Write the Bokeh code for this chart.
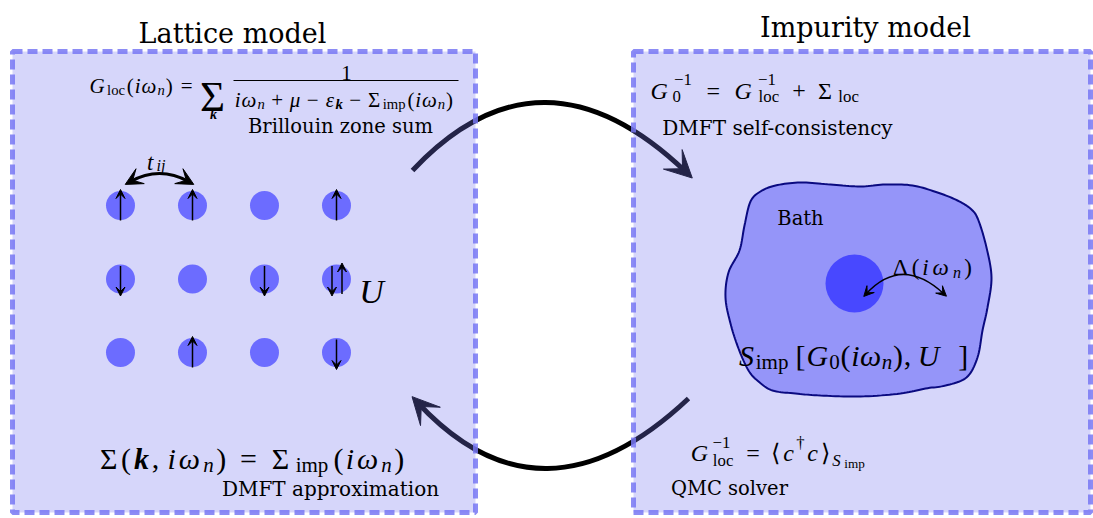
import numpy as np
from bokeh.plotting import figure
from bokeh.models import Range1d, ColumnDataSource, Arrow, VeeHead
from bokeh.core.properties import value
from bokeh.embed import file_html
from bokeh.resources import INLINE

# ---------------- content ----------------
TITLES = ["Lattice model", "Impurity model"]
CAPTIONS = ["Brillouin zone sum", "DMFT approximation", "DMFT self-consistency", "QMC solver", "Bath"]
# spin state on each lattice site (rows top->bottom, cols left->right)
SPIN_STATES = [["up", "up", "", "up"],
               ["down", "", "down", "updown"],
               ["", "up", "", "down"]]
N_ROWS, N_COLS = 3, 4

MATH = "Liberation Serif"
TXT = "DejaVu Serif"
DARK = "#000000"

W, H = 1093, 518
p = figure(width=W, height=H, x_range=Range1d(0, W), y_range=Range1d(H, 0),
           output_backend="svg", toolbar_location=None, x_axis_type=None, y_axis_type=None,
           min_border=0, background_fill_color="white", border_fill_color="white")
p.grid.visible = False
p.outline_line_color = None


def unit(v):
    v = np.asarray(v, float)
    return v / np.linalg.norm(v)


def head(tip, direction, size, color, level="annotation"):
    d = unit(direction)
    s = np.asarray(tip, float) - d * 2.0
    p.add_layout(Arrow(end=VeeHead(size=size, fill_color=color, line_color=color, line_width=1),
                       x_start=s[0], y_start=s[1], x_end=tip[0], y_end=tip[1],
                       line_alpha=0, line_width=0.1, level=level))


def curve_arrow(p0, apex, p1, lw, size, color, both=False, back=8.0, level="glyph"):
    p0 = np.asarray(p0, float); p1 = np.asarray(p1, float); apex = np.asarray(apex, float)
    c = 2 * apex - (p0 + p1) / 2
    p.quadratic(x0=[p0[0]], y0=[p0[1]], x1=[p1[0]], y1=[p1[1]], cx=[c[0]], cy=[c[1]],
                line_width=lw, line_color=color, level=level)
    hl = "underlay" if level == "underlay" else "annotation"
    d1 = unit(p1 - c)
    head(p1 + d1 * back, d1, size, color, level=hl)
    if both:
        d0 = unit(p0 - c)
        head(p0 + d0 * back, d0, size, color, level=hl)


# ---------------- big loop arrows (under the boxes) ----------------
curve_arrow((412, 170), (545, 102), (686, 172), 5, 27, DARK, level="underlay")
curve_arrow((688, 398), (547, 468), (417, 402), 5, 27, DARK, level="underlay")

# ---------------- boxes ----------------
p.quad(left=[12, 633], right=[475, 1090], top=[51, 51], bottom=[512, 512],
       fill_color="#7676ee", fill_alpha=0.3, line_color="#7878f3", line_alpha=0.85,
       line_width=5, line_dash="10 5")

# ---------------- bath blob ----------------
blob_pts = [(750, 201), (760, 191), (775, 185), (800, 182), (830, 184), (860, 186), (885, 184),
            (912, 185), (937, 192), (957, 200), (971, 209), (978, 220), (986, 247), (991, 277),
            (987, 307), (982, 330), (977, 357), (966, 377), (945, 385), (925, 388), (900, 393),
            (860, 396), (820, 395), (795, 393), (772, 390), (758, 381), (748, 370), (738, 348),
            (730, 323), (725, 297), (728, 272), (739, 250), (744, 225)]


def smooth_closed(pts, n=10):
    P = np.array(pts, float)
    N = len(P)
    out = []
    for i in range(N):
        p0, p1, p2, p3 = P[(i - 1) % N], P[i], P[(i + 1) % N], P[(i + 2) % N]
        for t in np.linspace(0, 1, n, endpoint=False):
            t2, t3 = t * t, t * t * t
            out.append(0.5 * ((2 * p1) + (-p0 + p2) * t + (2 * p0 - 5 * p1 + 4 * p2 - p3) * t2
                              + (-p0 + 3 * p1 - 3 * p2 + p3) * t3))
    return np.array(out)


bp = smooth_closed(blob_pts)
p.patch(bp[:, 0], bp[:, 1], fill_color="#9595f9", line_color="#0a0a80", line_width=2)
p.circle(x=[854], y=[283], radius=29, fill_color="#4848ff", line_color=None)

# ---------------- lattice ----------------
X0, DX, Y0, DY = 120, 72, 205, 73.5
sx, sy = [], []
for r in range(N_ROWS):
    for c in range(N_COLS):
        sx.append(X0 + c * DX)
        sy.append(Y0 + r * DY)
p.circle(x=sx, y=sy, radius=14.5, fill_color="#6c6cff", line_color=None)


def spin(x, yc, up):
    if up:
        ys, ye = yc + 15, yc - 16
    else:
        ys, ye = yc - 13, yc + 17
    p.segment(x0=[x], y0=[ys], x1=[x], y1=[ye + (4 if up else -4)], line_width=1.5, line_color="black")
    head((x, ye), (0, ye - ys), 9, "black")


for r in range(N_ROWS):
    for c in range(N_COLS):
        st = SPIN_STATES[r][c]
        x, y = X0 + c * DX, Y0 + r * DY
        if st == "up":
            spin(x, y, True)
        elif st == "down":
            spin(x, y, False)
        elif st == "updown":
            spin(x - 4.5, y, False)
            spin(x + 5.5, y, True)

# hopping arrow t_ij and hybridisation arrow Delta
curve_arrow((130, 181), (159, 173), (188, 181), 3, 17, "black", both=True, back=6)
curve_arrow((866, 293), (903, 274), (943, 293), 1.5, 10, "black", both=True, back=4)

# fraction bar
p.segment(x0=[233], y0=[80], x1=[458], y1=[80], line_width=1.2, line_color="black")

# ---------------- text layout ----------------
R, I, BI = "normal", "italic", "bold italic"
# advance widths (em) of Liberation Serif (Times metrics)
WID = {R: {' ': .25, '(': .333, ')': .333, ',': .25, '+': .564, '=': .564, '−': .564, '0': .5, '1': .5,
           '[': .333, ']': .333, 'l': .278, 'o': .5, 'c': .444, 'i': .278, 'm': .778, 'p': .5,
           'Σ': .6, 'Δ': .61, '†': .5, '⟨': .4, '⟩': .4},
       I: {'G': .722, 'S': .5, 'U': .722, 'i': .278, 'n': .5, 't': .278, 'j': .278, 'c': .444,
           'k': .444, 'ω': .67, 'μ': .5, 'ε': .44},
       BI: {'k': .5}}

groups = {}


def put(x, y, s, size, font, style):
    groups.setdefault((font, style), []).append((x, y, s, "%.1fpx" % size))


def tw(s, style, size):
    return sum(WID[style].get(ch, .5) for ch in s) * size


def formula(tokens, x_start, x_end, base, size):
    """tokens: (text, style, rel, dy) | ('gap', em) | ('stack', tokA, tokB)"""
    placed = []
    x = 0.0
    for tk in tokens:
        if tk[0] == "gap":
            x += tk[1] * size
        elif tk[0] == "stack":
            ws = []
            for sub in tk[1:]:
                s, st, rel, dy = sub
                w = tw(s, st, size * rel)
                placed.append((x + w / 2, base + dy * size, s, size * rel, st))
                ws.append(w)
            x += max(ws)
        else:
            s, st, rel, dy = tk
            w = tw(s, st, size * rel)
            placed.append((x + w / 2, base + dy * size, s, size * rel, st))
            x += w
    k = (x_end - x_start) / x
    for cx, y, s, sz, st in placed:
        put(x_start + cx * k, y, s, sz, MATH, st)


def g(em):
    return ("gap", em)


def tok(s, st=R, rel=1.0, dy=0.0):
    return (s, st, rel, dy)


SUB = 0.2
# titles and captions
put(232, 33, TITLES[0], 27, TXT, R)
put(865, 27, TITLES[1], 27, TXT, R)
put(340, 126, CAPTIONS[0], 19.5, TXT, R)
put(330, 488, CAPTIONS[1], 20, TXT, R)
put(777, 127, CAPTIONS[2], 20, TXT, R)
put(729, 488, CAPTIONS[3], 19.5, TXT, R)
put(800, 218, CAPTIONS[4], 19.5, TXT, R)

# G_loc(iw_n) = sum_k 1/(...)
formula([tok("G", I), tok("loc", R, .7, SUB), tok("("), tok("i", I), tok("ω", I), tok("n", I, .7, SUB),
         tok(")"), g(.28), tok("=")], 88, 193, 85, 21)
put(212, 96, "Σ", 43, MATH, R)
put(213, 114, "k", 14, MATH, BI)
put(346, 72, "1", 21, MATH, R)
formula([tok("i", I), tok("ω", I), tok("n", I, .7, SUB), g(.22), tok("+"), g(.22), tok("μ", I), g(.22),
         tok("−"), g(.22), tok("ε", I), tok("k", BI, .7, SUB), g(.22), tok("−"), g(.22), tok("Σ"),
         tok("imp", R, .7, SUB), tok("("), tok("i", I), tok("ω", I), tok("n", I, .7, SUB), tok(")")],
        234, 453, 99, 21)

# G0^-1 = G_loc^-1 + Sigma_loc
formula([tok("G", I), ("stack", tok("−1", R, .7, -.45), tok("0", R, .7, .27)), g(.28), tok("="), g(.28),
         tok("G", I), ("stack", tok("−1", R, .7, -.45), tok("loc", R, .7, .27)), g(.22), tok("+"), g(.22),
         tok("Σ"), tok("loc", R, .7, .27)], 647, 862, 90, 24)

# Sigma(k, iw_n) = Sigma_imp(iw_n)
formula([tok("Σ"), tok("("), tok("k", BI), tok(","), g(.17), tok("i", I), tok("ω", I), tok("n", I, .7, .22),
         tok(")"), g(.28), tok("="), g(.28), tok("Σ"), tok("imp", R, .7, .22), tok("("), tok("i", I),
         tok("ω", I), tok("n", I, .7, .22), tok(")")], 97, 405, 458, 30)

# G_loc^-1 = <c+ c>_S_imp
formula([tok("G", I), ("stack", tok("−1", R, .7, -.4), tok("loc", R, .7, .33)), g(.28), tok("="), g(.28),
         tok("⟨"), tok("c", I), tok("†", R, .7, -.4), tok("c", I), tok("⟩"), tok("S", I, .7, .33),
         tok("imp", R, .55, .45)], 688, 867, 452, 24)

# S_imp[G0(iw_n), U]
formula([tok("S", I), tok("imp", R, .7, SUB), g(.17), tok("["), tok("G", I), tok("0", R, .7, SUB),
         tok("("), tok("i", I), tok("ω", I), tok("n", I, .7, SUB), tok(")"), tok(","), g(.17),
         tok("U", I), g(.55), tok("]")], 738, 968, 355, 30)

# Delta(iw_n)
formula([tok("Δ"), tok("("), tok("i", I), tok("ω", I), tok("n", I, .7, .22), tok(")")], 890, 973, 267, 23)

# t_ij and U
formula([tok("t", I), tok("ij", I, .7, .12)], 145, 167, 162, 23)
put(371, 291, "U", 34, MATH, I)

for (font, style), rows in groups.items():
    src = ColumnDataSource(dict(x=[r[0] for r in rows], y=[r[1] for r in rows],
                                text=[r[2] for r in rows], size=[r[3] for r in rows]))
    p.text(x="x", y="y", text="text", source=src, text_font=value(font), text_font_size="size",
           text_font_style=value(style), text_align="center", text_baseline="alphabetic",
           text_color="black")

open("out.html", "w").write(file_html(p, INLINE))
